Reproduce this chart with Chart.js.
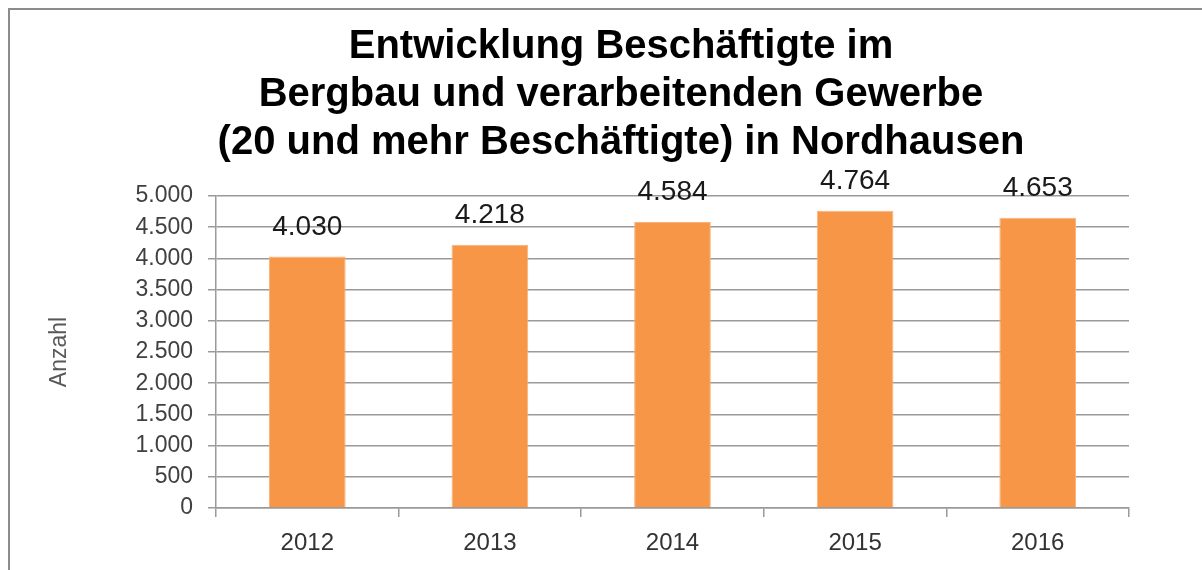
<!DOCTYPE html>
<html lang="de">
<head>
<meta charset="utf-8">
<title>Beschäftigte Nordhausen</title>
<script src="https://cdn.jsdelivr.net/npm/chart.js@4.4.1/dist/chart.umd.min.js"></script>
<style>
    html, body { margin: 0; padding: 0; background: #fff; overflow: hidden; }
    #rahmen {
        position: absolute; left: 8px; top: 8px; width: 1300px; height: 700px;
        border: 2px solid #8c8c8c; box-sizing: border-box;
    }
    #titel {
        position: absolute; left: 0; top: 20px; width: 1242px;
        text-align: center; font: bold 40px "Liberation Sans", Arial, sans-serif;
        line-height: 48px; color: #000; z-index: 2;
    }
    #grafico { position: absolute; left: 0; top: 0; }
</style>
</head>
<body>
<div id="rahmen"></div>
<div id="titel">Entwicklung Beschäftigte im<br>Bergbau und verarbeitenden Gewerbe<br>(20 und mehr Beschäftigte) in Nordhausen</div>
<canvas id="grafico" width="1202" height="570"></canvas>
<script>
const jahre = ['2012', '2013', '2014', '2015', '2016'];
const beschaeftigte = [4030, 4218, 4584, 4764, 4653];
const achseMax = 5000;
const achseSchritt = 500;

// 4030 -> "4.030"
function formatDe(v) {
    return String(v).replace(/\B(?=(\d{3})+(?!\d))/g, '.');
}

// Werte ueber den Balken
const wertLabels = {
    id: 'wertLabels',
    afterDatasetsDraw(chart) {
        const ctx = chart.ctx;
        const meta = chart.getDatasetMeta(0);
        ctx.save();
        ctx.font = '28px "Liberation Sans", Arial, sans-serif';
        ctx.fillStyle = '#1a1a1a';
        ctx.textAlign = 'center';
        ctx.textBaseline = 'alphabetic';
        meta.data.forEach(function(bar, i) {
            ctx.fillText(formatDe(beschaeftigte[i]), bar.x, bar.y - 22);
        });
        ctx.restore();
    }
};

const gitterFarbe = '#9a9a9a';

new Chart(document.getElementById('grafico'), {
    type: 'bar',
    plugins: [wertLabels],
    data: {
        labels: jahre,
        datasets: [{
            label: 'Anzahl',
            data: beschaeftigte,
            backgroundColor: '#F79646',
            borderColor: '#FAB27A',
            borderWidth: 1,
            barPercentage: 0.42,
            categoryPercentage: 1
        }]
    },
    options: {
        responsive: false,
        animation: false,
        layout: {
            padding: { top: 196, left: 30, right: 73, bottom: 0 }
        },
        plugins: {
            legend: { display: false },
            title: { display: false },
            tooltip: { enabled: false }
        },
        scales: {
            x: {
                afterFit: function(s) { s.height = 62; },
                grid: {
                    offset: true,
                    drawOnChartArea: false,
                    tickLength: 9,
                    color: gitterFarbe,
                    lineWidth: 1.5
                },
                border: { color: gitterFarbe, width: 1.5 },
                ticks: {
                    padding: 12,
                    color: '#333',
                    font: { family: '"Liberation Sans", Arial, sans-serif', size: 24 }
                }
            },
            y: {
                min: 0,
                max: achseMax,
                afterFit: function(s) { s.width = 186; },
                grid: {
                    tickLength: 8,
                    color: gitterFarbe,
                    lineWidth: 1.5
                },
                border: { color: gitterFarbe, width: 1.5 },
                ticks: {
                    stepSize: achseSchritt,
                    autoSkip: false,
                    padding: 15,
                    color: '#404040',
                    font: { family: '"Liberation Sans", Arial, sans-serif', size: 23 },
                    callback: function(v) { return formatDe(v); }
                },
                title: {
                    display: true,
                    text: 'Anzahl',
                    color: '#595959',
                    padding: { top: 16, bottom: 4 },
                    font: { family: '"Liberation Sans", Arial, sans-serif', size: 23 }
                }
            }
        }
    }
});
</script>
</body>
</html>
